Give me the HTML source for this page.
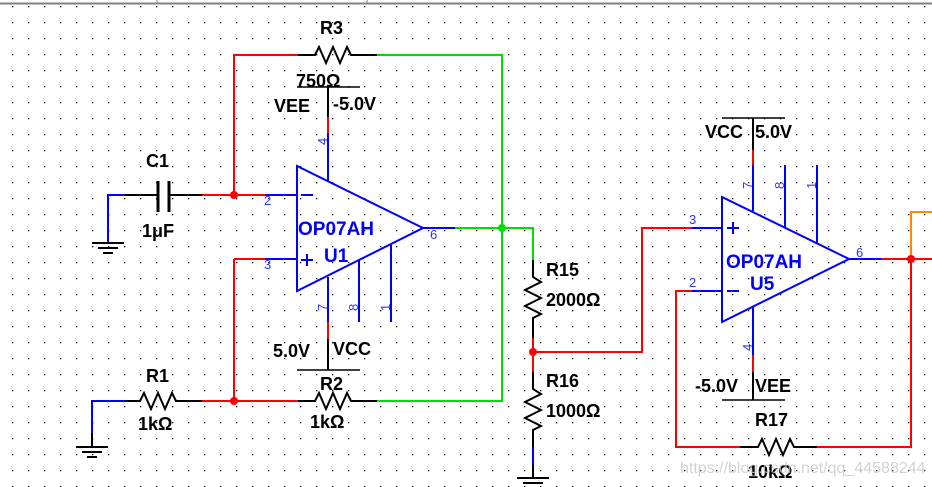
<!DOCTYPE html>
<html><head><meta charset="utf-8"><style>
html,body{margin:0;padding:0;background:#fff;}
svg{display:block;font-family:"Liberation Sans",Arial,sans-serif;}
.t{font-weight:bold;font-size:18px;fill:#000;}
.b{font-weight:bold;font-size:19px;fill:#0000ff;}
.p{font-size:13px;fill:#3333ff;}
</style></head><body>
<svg width="932" height="487" viewBox="0 0 932 487" xmlns="http://www.w3.org/2000/svg">
<defs><pattern id="g" x="12" y="6" width="16" height="16" patternUnits="userSpaceOnUse"><rect x="0" y="0" width="1.3" height="1.3" fill="#000"/></pattern></defs>
<rect width="932" height="487" fill="url(#g)"/>
<rect x="0" y="0" width="932" height="5" fill="#fff"/>
<line x1="0" y1="3.5" x2="932" y2="3.5" stroke="#808080" stroke-width="2"/>
<line x1="157" y1="0" x2="157" y2="4" stroke="#808080"/><line x1="367" y1="0" x2="367" y2="4" stroke="#808080"/>
<g fill="none" stroke-width="2">
<polyline points="234,195 234,55 298,55" stroke="#f00"/>
<polyline points="298,55 315,55 319,47 326,63 333,47 340,63 347,47 351,55 377,55" stroke="#000"/>
<polyline points="377,55 502,55 502,401 377,401" stroke="#0d0"/>
<polyline points="108,243 108,195 124,195" stroke="#00f"/>
<line x1="124" y1="195" x2="158" y2="195" stroke="#000"/>
<line x1="158" y1="181" x2="158" y2="212" stroke="#000" stroke-width="3"/>
<line x1="169" y1="181" x2="169" y2="212" stroke="#000" stroke-width="3"/>
<line x1="169" y1="195" x2="202" y2="195" stroke="#000"/>
<line x1="202" y1="195" x2="265" y2="195" stroke="#f00"/>
<line x1="265" y1="195" x2="297" y2="195" stroke="#00f"/>
<g stroke="#000"><line x1="92" y1="243" x2="124" y2="243"/><line x1="98" y1="248" x2="118" y2="248"/><line x1="103" y1="253" x2="113" y2="253"/>
<line x1="76" y1="447" x2="108" y2="447"/><line x1="82" y1="452" x2="102" y2="452"/><line x1="87" y1="457" x2="97" y2="457"/>
<line x1="517" y1="478" x2="549" y2="478"/><line x1="523" y1="483" x2="543" y2="483"/></g>
<polygon points="297,166 297,291 423,228" stroke="#00f"/>
<line x1="301" y1="195" x2="313" y2="195" stroke="#00f"/>
<line x1="301" y1="260" x2="313" y2="260" stroke="#00f"/><line x1="307" y1="254" x2="307" y2="266" stroke="#00f"/>
<line x1="328" y1="87" x2="328" y2="117" stroke="#000"/><line x1="328" y1="117" x2="328" y2="133" stroke="#f00"/><line x1="328" y1="133" x2="328" y2="181" stroke="#00f"/>
<line x1="297" y1="87" x2="360" y2="87" stroke="#000" stroke-width="1.5"/>
<line x1="328" y1="277" x2="328" y2="322" stroke="#00f"/><line x1="328" y1="322" x2="328" y2="339" stroke="#f00"/><line x1="328" y1="339" x2="328" y2="370" stroke="#000"/>
<line x1="297" y1="370" x2="360" y2="370" stroke="#000" stroke-width="1.5"/>
<line x1="359" y1="260" x2="359" y2="322" stroke="#00f"/>
<line x1="391" y1="245" x2="391" y2="322" stroke="#00f"/>
<line x1="423" y1="228" x2="455" y2="228" stroke="#00f"/>
<polyline points="455,228 533,228 533,260" stroke="#0d0"/>
<polyline points="234,259 265,259" stroke="#f00"/><line x1="265" y1="259" x2="297" y2="259" stroke="#00f"/>
<polyline points="234,259 234,401 298,401" stroke="#f00"/>
<polyline points="298,401 315,401 319,393 326,409 333,393 340,409 347,393 351,401 377,401" stroke="#000"/>
<polyline points="92,433 92,401 125,401" stroke="#00f"/>
<polyline points="125,401 140,401 144,393 151,409 158,393 165,409 172,393 176,401 202,401" stroke="#000"/>
<line x1="202" y1="401" x2="234" y2="401" stroke="#f00"/>
<line x1="92" y1="433" x2="92" y2="447" stroke="#000"/>
<polyline points="533,260 533,277 541,282 525,290 541,298 525,306 541,314 533,318 533,338" stroke="#000"/>
<polyline points="533,338 533,372" stroke="#f00"/>
<polyline points="533,372 533,389 541,394 525,402 541,410 525,418 541,426 533,430 533,447" stroke="#000"/>
<line x1="533" y1="447" x2="533" y2="465" stroke="#00f"/><line x1="533" y1="465" x2="533" y2="478" stroke="#000"/>
<polyline points="533,352 642,352 642,228 692,228" stroke="#f00"/>
<line x1="692" y1="228" x2="722" y2="228" stroke="#00f"/>
<polygon points="722,197 722,322 849,259" stroke="#00f"/>
<line x1="727" y1="228" x2="739" y2="228" stroke="#00f"/><line x1="733" y1="222" x2="733" y2="234" stroke="#00f"/>
<line x1="727" y1="291" x2="739" y2="291" stroke="#00f"/>
<line x1="692" y1="291" x2="722" y2="291" stroke="#00f"/>
<polyline points="692,291 676,291 676,447 740,447" stroke="#f00"/>
<polyline points="740,447 758,447 762,439 769,455 776,439 783,455 790,439 794,447 817,447" stroke="#000"/>
<polyline points="817,447 911,447 911,259" stroke="#f00"/>
<line x1="849" y1="259" x2="881" y2="259" stroke="#00f"/>
<line x1="881" y1="259" x2="932" y2="259" stroke="#f00"/>
<polyline points="911,259 911,212 932,212" stroke="#f80"/>
<line x1="722" y1="118" x2="785" y2="118" stroke="#000" stroke-width="1.5"/>
<line x1="753" y1="118" x2="753" y2="150" stroke="#000"/><line x1="753" y1="150" x2="753" y2="165" stroke="#f00"/><line x1="753" y1="165" x2="753" y2="211" stroke="#00f"/>
<line x1="785" y1="165" x2="785" y2="227" stroke="#00f"/>
<line x1="817" y1="165" x2="817" y2="243" stroke="#00f"/>
<line x1="753" y1="307" x2="753" y2="355" stroke="#00f"/><line x1="753" y1="355" x2="753" y2="372" stroke="#f00"/><line x1="753" y1="372" x2="753" y2="400" stroke="#000"/>
<line x1="722" y1="400" x2="785" y2="400" stroke="#000" stroke-width="1.5"/>
</g>
<g fill="#f00"><circle cx="234" cy="195" r="4"/><circle cx="234" cy="401" r="4"/><circle cx="533" cy="352" r="4"/><circle cx="911" cy="259" r="4"/></g>
<circle cx="502" cy="228" r="4" fill="#0d0"/>
<g class="t">
<text x="320" y="34">R3</text><text x="296" y="87">750Ω</text>
<text x="274" y="112">VEE</text><text x="333" y="110">-5.0V</text>
<text x="146" y="167">C1</text><text x="142" y="237">1μF</text>
<text x="273" y="357">5.0V</text><text x="333" y="355">VCC</text>
<text x="320" y="390">R2</text><text x="310" y="428">1kΩ</text>
<text x="146" y="382">R1</text><text x="138" y="430">1kΩ</text>
<text x="546" y="276">R15</text><text x="546" y="306">2000Ω</text>
<text x="546" y="387">R16</text><text x="546" y="417">1000Ω</text>
<text x="705" y="138">VCC</text><text x="755" y="138">5.0V</text>
<text x="695" y="392">-5.0V</text><text x="755" y="392">VEE</text>
<text x="755" y="426">R17</text><text x="748" y="478">10kΩ</text>
</g>
<g class="b"><text x="298" y="235">OP07AH</text><text x="324" y="262">U1</text>
<text x="726" y="268">OP07AH</text><text x="750" y="290">U5</text></g>
<g class="p">
<text x="264" y="205">2</text><text x="264" y="269">3</text><text x="430" y="239">6</text>
<text x="0" y="0" transform="translate(327,145) rotate(-90)">4</text>
<text x="0" y="0" transform="translate(327,311) rotate(-90)">7</text>
<text x="0" y="0" transform="translate(358,311) rotate(-90)">8</text>
<text x="0" y="0" transform="translate(390,311) rotate(-90)">1</text>
<text x="689" y="224">3</text><text x="689" y="287">2</text><text x="856" y="257">6</text>
<text x="0" y="0" transform="translate(752,189) rotate(-90)">7</text>
<text x="0" y="0" transform="translate(784,189) rotate(-90)">8</text>
<text x="0" y="0" transform="translate(816,189) rotate(-90)">1</text>
<text x="0" y="0" transform="translate(752,351) rotate(-90)">4</text>
</g>
<text x="680" y="473" font-size="16" fill="#c8c8c8" opacity="0.8">https://blog.csdn.net/qq_44588244</text>
</svg>
</body></html>
